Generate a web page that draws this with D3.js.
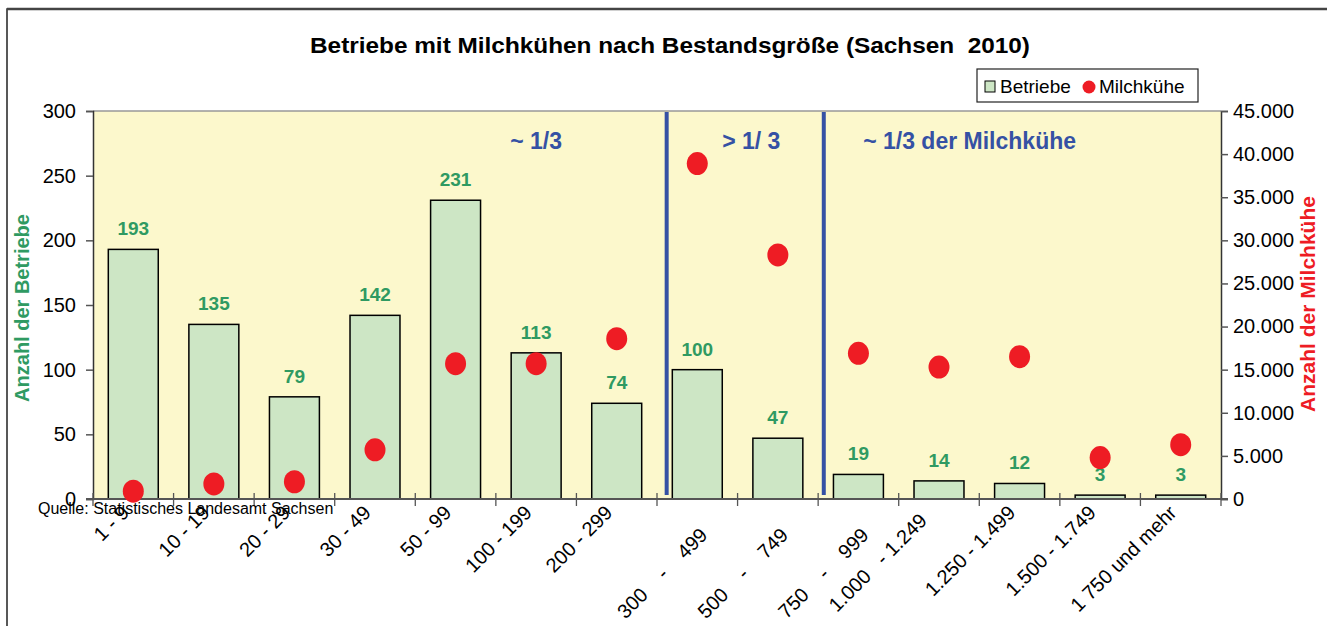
<!DOCTYPE html>
<html>
<head>
<meta charset="utf-8">
<script src="https://cdn.jsdelivr.net/npm/d3@7"></script>
<style>
  body { margin: 0; background: #fff; }
  svg { font-family: "Liberation Sans", Arial, sans-serif; }
</style>
</head>
<body>
<div class="container"></div>
<script>
const width = 1327, height = 626;

// data
const categories = ["1 - 9", "10 - 19", "20 - 29", "30 - 49", "50 - 99", "100 - 199", "200 - 299",
    "300 - 499", "500 - 749", "750 - 999", "1.000 - 1.249", "1.250 - 1.499", "1.500 - 1.749", "1 750 und mehr"];
// tick labels as they are typed in the source chart (extra blanks / empty first line)
const tickLabels = ["1 - 9", "10 - 19", "20 - 29", "30 - 49", "50 - 99", "100 - 199", "200 - 299",
    "\n300    -    499 ", "\n500    -    749 ", "\n750    -    999 ", "1.000   - 1.249  ", "1.250 - 1.499", "1.500 - 1.749", "1 750 und mehr"];
const betriebe = [193, 135, 79, 142, 231, 113, 74, 100, 47, 19, 14, 12, 3, 3];
const milchkuehe = [900, 1750, 2000, 5700, 15700, 15700, 18600, 38900, 28300, 16900, 15300, 16500, 4800, 6300];
const leftTicks = [0, 50, 100, 150, 200, 250, 300];
const rightTicks = [0, 5000, 10000, 15000, 20000, 25000, 30000, 35000, 40000, 45000];
// dividers and notes, positioned in category units
const dividers = [7.12, 9.07];
const notes = [
    { text: "~ 1/3", pos: 5.5 },
    { text: "> 1/ 3", pos: 8.17 },
    { text: "~ 1/3 der Milchkühe", pos: 10.88 }
];

const margin = { top: 111, right: 106, bottom: 127, left: 93 };
const innerW = width - margin.left - margin.right;
const innerH = height - margin.top - margin.bottom;

const green = "#2f9a62", red = "#ee1c24", blue = "#3551a4";

const svg = d3.select(".container")
    .append("svg")
    .attr("width", width)
    .attr("height", height);

// outer frame
svg.append("rect")
    .attr("x", 7).attr("y", 9)
    .attr("width", width + 10).attr("height", height + 10)
    .attr("fill", "none").attr("stroke", "#222").attr("stroke-width", 1.5);
svg.append("line")
    .attr("x1", 7).attr("x2", width).attr("y1", 9).attr("y2", 9)
    .attr("stroke", "#444").attr("stroke-width", 2.5);

svg.append("text")
    .attr("x", 670).attr("y", 53)
    .attr("text-anchor", "middle")
    .attr("font-size", 22).attr("font-weight", "bold")
    .attr("textLength", 720).attr("lengthAdjust", "spacingAndGlyphs")
    .style("white-space", "pre")
    .text("Betriebe mit Milchkühen nach Bestandsgröße (Sachsen  2010)");

const g = svg.append("g").attr("transform", `translate(${margin.left},${margin.top})`);

const x = d3.scaleBand().domain(categories).range([0, innerW]).paddingInner(0.38).paddingOuter(0.19);
const step = innerW / categories.length;
const y = d3.scaleLinear().domain([0, 300]).range([innerH, 0]);
const y2 = d3.scaleLinear().domain([0, 45000]).range([innerH, 0]);

g.append("rect")
    .attr("width", innerW).attr("height", innerH)
    .attr("fill", "#fcf8cc");
g.append("line")
    .attr("x1", 0).attr("x2", innerW)
    .attr("stroke", "#999").attr("stroke-width", 1.5);

// bars
g.selectAll("rect.bar")
    .data(betriebe)
    .enter()
    .append("rect")
    .attr("class", "bar")
    .attr("x", (d, i) => x(categories[i]))
    .attr("y", d => y(d))
    .attr("width", x.bandwidth())
    .attr("height", d => innerH - y(d))
    .attr("fill", "#cde6c5")
    .attr("stroke", "#000")
    .attr("stroke-width", 1.5);

g.selectAll("text.val")
    .data(betriebe)
    .enter()
    .append("text")
    .attr("class", "val")
    .attr("x", (d, i) => x(categories[i]) + x.bandwidth() / 2)
    .attr("y", d => y(d) - 14)
    .attr("text-anchor", "middle")
    .attr("font-size", 19).attr("font-weight", "bold")
    .attr("fill", green)
    .text(d => d);

// divider lines
g.selectAll("line.div")
    .data(dividers)
    .enter()
    .append("line")
    .attr("class", "div")
    .attr("x1", d => d * step).attr("x2", d => d * step)
    .attr("y1", 1).attr("y2", innerH - 4)
    .attr("stroke", blue).attr("stroke-width", 4);

g.selectAll("text.note")
    .data(notes)
    .enter()
    .append("text")
    .attr("class", "note")
    .attr("x", d => d.pos * step)
    .attr("y", y(271))
    .attr("text-anchor", "middle")
    .attr("font-size", 23).attr("font-weight", "bold")
    .attr("fill", blue)
    .text(d => d.text);

// axes
const fmtDE = d3.formatLocale({ decimal: ",", thousands: ".", grouping: [3], currency: ["", "€"] }).format(",.0f");

const axL = g.append("g")
    .call(d3.axisLeft(y).tickValues(leftTicks).tickSize(7).tickPadding(10));
const axR = g.append("g")
    .attr("transform", `translate(${innerW},0)`)
    .call(d3.axisRight(y2).tickValues(rightTicks).tickSize(7).tickPadding(5).tickFormat(fmtDE));
[axL, axR].forEach(a => {
    a.select(".domain").attr("stroke", "#333").attr("stroke-width", 1.5);
    a.selectAll(".tick line").attr("stroke", "#555").attr("stroke-width", 1.5);
    a.selectAll(".tick text").attr("font-size", 20).attr("fill", "#000")
        .attr("font-family", "Liberation Sans, Arial, sans-serif");
});

// bottom axis: ticks between categories
const bx = g.append("g").attr("transform", `translate(0,${innerH})`);
bx.append("line")
    .attr("x1", -7).attr("x2", innerW + 7)
    .attr("stroke", "#555").attr("stroke-width", 2);
bx.selectAll("line.tk")
    .data(d3.range(categories.length + 1))
    .enter()
    .append("line")
    .attr("class", "tk")
    .attr("x1", d => d * step).attr("x2", d => d * step)
    .attr("y1", -6).attr("y2", 7)
    .attr("stroke", "#555").attr("stroke-width", 1.3);

const lbl = bx.selectAll("text.cat")
    .data(tickLabels)
    .enter()
    .append("text")
    .attr("class", "cat")
    .attr("text-anchor", "end")
    .attr("font-size", 20)
    .style("white-space", "pre")
    .attr("transform", (d, i) => `translate(${x(categories[i]) + x.bandwidth() / 2 - 3},${15}) rotate(-45)`);
lbl.each(function (d) {
    const t = d3.select(this);
    d.split("\n").forEach((line, k) => {
        t.append("tspan").attr("x", 0).attr("dy", k === 0 ? 0 : "1.3em").text(line || " ");
    });
});

// dots
g.selectAll("ellipse.cow")
    .data(milchkuehe)
    .enter()
    .append("ellipse")
    .attr("class", "cow")
    .attr("cx", (d, i) => x(categories[i]) + x.bandwidth() / 2)
    .attr("cy", d => y2(d))
    .attr("rx", 10.5).attr("ry", 11.5)
    .attr("fill", red);

// axis titles
svg.append("text")
    .attr("transform", `translate(29,308) rotate(-90)`)
    .attr("text-anchor", "middle")
    .attr("font-size", 20).attr("font-weight", "bold")
    .attr("fill", green)
    .text("Anzahl der Betriebe");
svg.append("text")
    .attr("transform", `translate(1315,304) rotate(-90)`)
    .attr("text-anchor", "middle")
    .attr("font-size", 21).attr("font-weight", "bold")
    .attr("fill", red)
    .text("Anzahl der Milchkühe");

// legend
const leg = svg.append("g").attr("transform", "translate(977,69)");
leg.append("rect").attr("width", 221).attr("height", 33)
    .attr("fill", "#fff").attr("stroke", "#222").attr("stroke-width", 1.2);
leg.append("rect").attr("x", 8).attr("y", 12).attr("width", 10).attr("height", 11)
    .attr("fill", "#cde6c5").attr("stroke", "#000");
leg.append("text").attr("x", 23).attr("y", 24).attr("font-size", 19).text("Betriebe");
leg.append("circle").attr("cx", 112).attr("cy", 18).attr("r", 6.5).attr("fill", red);
leg.append("text").attr("x", 122).attr("y", 24).attr("font-size", 19).text("Milchkühe");

svg.append("text")
    .attr("x", 38).attr("y", 514)
    .attr("font-size", 16)
    .text("Quelle: Statistisches Landesamt Sachsen");
</script>
</body>
</html>
